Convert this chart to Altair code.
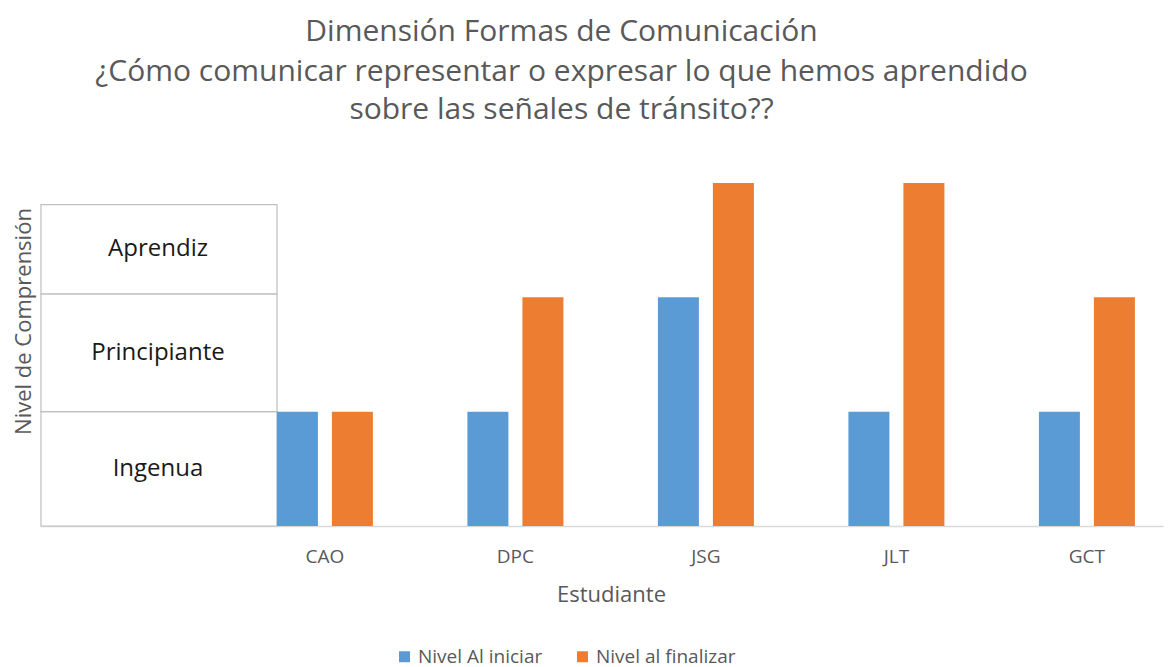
import altair as alt
import pandas as pd

estudiantes = ["CAO", "DPC", "JSG", "JLT", "GCT"]
nivel_iniciar = [1, 1, 2, 1, 1]
nivel_finalizar = [1, 2, 3, 3, 2]
series = ["Nivel Al iniciar", "Nivel al finalizar"]
colores = ["#5B9BD5", "#ED7D31"]

niveles = ["Ingenua", "Principiante", "Aprendiz"]
limites = [0, 1, 2.03, 2.81]

titulo = "Dimensión Formas de Comunicación"
subtitulo = [
    "¿Cómo comunicar representar o expresar lo que hemos aprendido",
    "sobre las señales de tránsito??",
]

FONT = "Open Sans"
GRAY = "#595959"
W, H = 1123, 343

rows = []
for e, a, b in zip(estudiantes, nivel_iniciar, nivel_finalizar):
    rows.append({"Estudiante": e, "Serie": series[0], "Nivel": a})
    rows.append({"Estudiante": e, "Serie": series[1], "Nivel": b})
df = pd.DataFrame(rows)

boxes = pd.DataFrame({
    "Nivel": niveles,
    "lo": limites[:-1],
    "hi": limites[1:],
})
boxes["mid"] = (boxes["lo"] + boxes["hi"]) / 2

yscale = alt.Scale(domain=[0, 3], nice=False, zero=True)

bars = alt.Chart(df).mark_bar().encode(
    x=alt.X(
        "Estudiante:N",
        sort=estudiantes,
        scale=alt.Scale(paddingInner=0.496, paddingOuter=0.6955, align=0.894),
        axis=alt.Axis(
            title="Estudiante", labelAngle=0, ticks=False, domain=True,
            domainColor="#D9D9D9", domainWidth=1.5,
            labelFont=FONT, labelFontSize=19, labelColor=GRAY, labelPadding=21,
            titleFont=FONT, titleFontSize=22, titleColor=GRAY, titleFontWeight="normal",
            titlePadding=18, titleX=571,
        ),
    ),
    xOffset=alt.XOffset("Serie:N", sort=series, scale=alt.Scale(paddingInner=0.2545)),
    y=alt.Y(
        "Nivel:Q",
        scale=yscale,
        axis=alt.Axis(
            title="Nivel de Comprensión", labels=False, ticks=False, domain=False, grid=False,
            titleFont=FONT, titleFontSize=22, titleColor=GRAY, titleFontWeight="normal",
            titleX=-17, titleY=138, titleAlign="center", titleBaseline="middle",
        ),
    ),
    color=alt.Color(
        "Serie:N",
        sort=series,
        scale=alt.Scale(domain=series, range=colores),
        legend=alt.Legend(
            title=None, orient="none", direction="horizontal",
            legendX=355, legendY=464, symbolType="square", symbolSize=120,
            symbolStrokeWidth=0, labelFont=FONT, labelFontSize=19, labelColor=GRAY,
            columnPadding=30, labelOffset=4,
        ),
    ),
)

box_rects = alt.Chart(boxes).mark_rect(
    fill="white", stroke="#BFBFBF", strokeWidth=1.2
).encode(
    x=alt.value(1),
    x2=alt.value(237),
    y=alt.Y("lo:Q", scale=yscale),
    y2="hi:Q",
)

box_text = alt.Chart(boxes).mark_text(
    font=FONT, fontSize=24, color="#1a1a1a", align="center", baseline="middle"
).encode(
    x=alt.value(118),
    y=alt.Y("mid:Q", scale=yscale),
    text="Nivel:N",
)

chart = alt.layer(box_rects, box_text, bars).properties(
    width=W,
    height=H,
    background="white",
    title=alt.TitleParams(
        text=titulo, subtitle=subtitulo, font=FONT, fontSize=30, fontWeight="normal",
        color=GRAY, subtitleFont=FONT, subtitleFontSize=30, subtitleColor=GRAY,
        subtitleFontWeight="normal", subtitleLineHeight=38, subtitlePadding=10,
        anchor="middle", frame="group", dx=-40, offset=58,
    ),
    autosize=alt.AutoSizeParams(type="none"),
    padding={"left": 32, "top": 175, "right": 2, "bottom": 143},
).configure_view(stroke=None)

chart.save("out.html", embed_options={"renderer": "svg", "actions": False})
